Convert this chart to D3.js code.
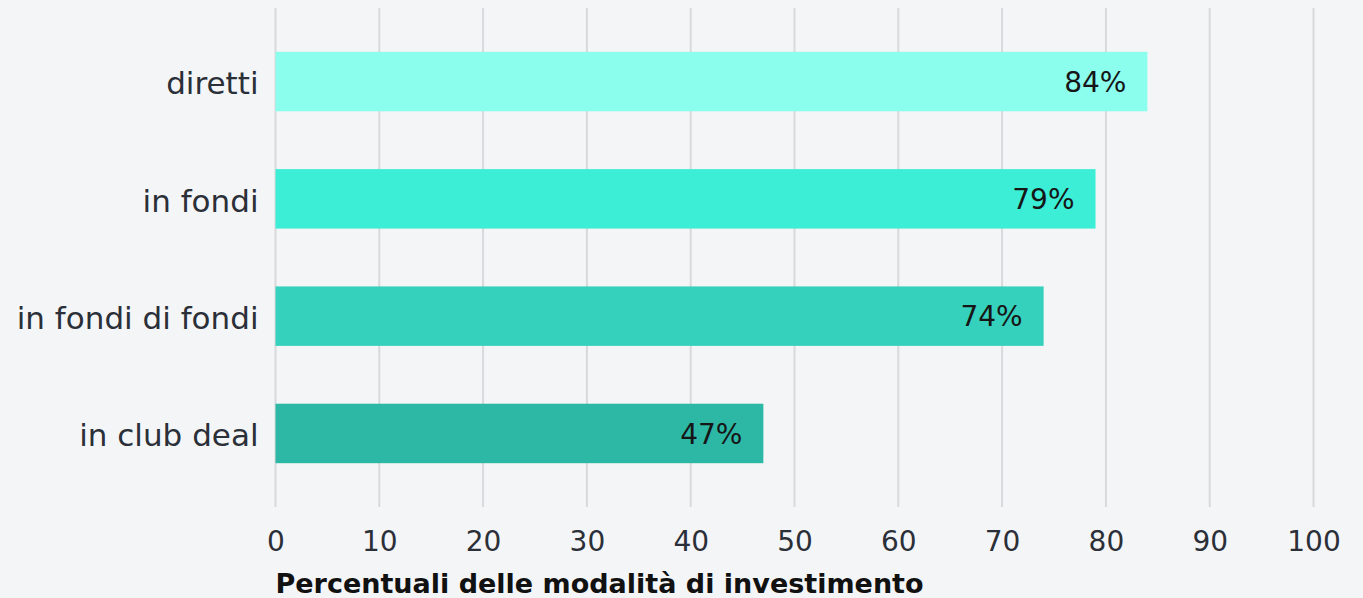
<!DOCTYPE html>
<html>
<head>
<meta charset="utf-8">
<script src="https://cdn.jsdelivr.net/npm/d3@7"></script>
<style>
	html, body {margin: 0; padding: 0; background: #f4f5f7;}
	svg {display: block; font-family: 'DejaVu Sans', sans-serif;}
</style>
</head>
<body>
<div id="grafic"></div>
<script>
// dades
var categories = ['diretti', 'in fondi', 'in fondi di fondi', 'in club deal'];
var valors = [84, 79, 74, 47];
var colors = ['#8cfeee', '#3ceed6', '#36d1bd', '#2db8a6'];
var ticks = [0, 10, 20, 30, 40, 50, 60, 70, 80, 90, 100];
var titolX = 'Percentuali delle modalità di investimento';

var Amplada = 1363;
var Alçada = 598;
var marge = {dalt: 8, dreta: 50, baix: 91, esquerra: 275.5};
var font = "'DejaVu Sans', sans-serif";

var svg = d3.select('#grafic')
	.append('svg')
		.attr('width', Amplada)
		.attr('height', Alçada);

svg.append('rect')
	.attr('width', '100%')
	.attr('height', '100%')
	.attr('fill', '#f4f5f7');

var x = d3.scaleLinear()
	.domain([0, 100])
	.range([marge.esquerra, 1313.5]);

var y = d3.scaleBand()
	.domain(categories)
	.range([marge.dalt, Alçada - marge.baix])
	.paddingInner(0.493)
	.paddingOuter(0.3735);

// graella
svg.append('g')
	.selectAll('line')
	.data(ticks)
	.enter()
	.append('line')
		.attr('x1', d => x(d))
		.attr('x2', d => x(d))
		.attr('y1', marge.dalt)
		.attr('y2', Alçada - marge.baix)
		.attr('stroke', '#d8d9db')
		.attr('stroke-width', 2);

// barres
var dades = categories.map((c, i) => ({cat: c, val: valors[i], col: colors[i]}));

svg.append('g')
	.selectAll('rect')
	.data(dades)
	.enter()
	.append('rect')
		.attr('x', x(0))
		.attr('y', d => y(d.cat))
		.attr('width', d => x(d.val) - x(0))
		.attr('height', y.bandwidth())
		.attr('fill', d => d.col);

svg.append('g')
	.selectAll('text')
	.data(dades)
	.enter()
	.append('text')
		.attr('x', d => x(d.val) - 21)
		.attr('y', d => y(d.cat) + y.bandwidth()/2)
		.attr('dy', '0.36em')
		.attr('text-anchor', 'end')
		.attr('font-size', 28)
		.attr('fill', '#161616')
		.text(d => d.val + '%');

// eix Y
var eixY = svg.append('g')
	.attr('transform', `translate(${marge.esquerra - 17},3)`)
	.call(d3.axisLeft(y).tickSize(0).tickPadding(0));
eixY.select('.domain').remove();
eixY.selectAll('text')
	.attr('font-size', 31)
	.attr('font-family', font)
	.attr('fill', '#2b2f38');

// eix X
var eixX = svg.append('g')
	.attr('transform', `translate(0,${Alçada - marge.baix})`)
	.call(d3.axisBottom(x).tickValues(ticks).tickSize(0).tickPadding(24));
eixX.select('.domain').remove();
eixX.selectAll('text')
	.attr('font-size', 28)
	.attr('font-family', font)
	.attr('fill', '#2b2f38');

svg.append('text')
	.attr('x', marge.esquerra)
	.attr('y', 593)
	.attr('font-size', 27)
	.attr('font-weight', 'bold')
	.attr('fill', '#111')
	.text(titolX);
</script>
</body>
</html>
